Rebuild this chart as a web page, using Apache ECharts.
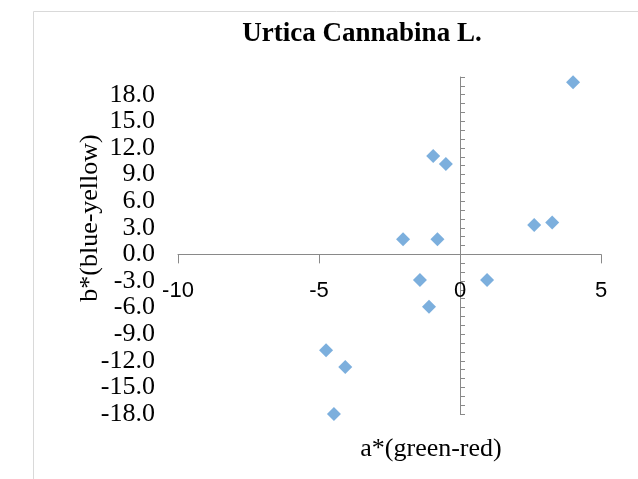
<!DOCTYPE html>
<html>
<head>
<meta charset="utf-8">
<script src="https://cdn.jsdelivr.net/npm/echarts@6/dist/echarts.min.js"></script>
<style>
  html, body { margin: 0; padding: 0; background: #fff; }
  #chart { width: 638px; height: 479px; }
</style>
</head>
<body>
<div id="chart"></div>
<script>
// a* (green-red) and b* (blue-yellow) readings
const aValues = [4.01, -0.95, -0.50, -2.02, -0.80, 2.63, 3.27, -1.42, 0.96, -1.10, -4.75, -4.07, -4.47]
const bValues = [19.4, 11.1, 10.2, 1.7, 1.7, 3.3, 3.6, -2.9, -2.9, -5.9, -10.8, -12.7, -18.0]
const xTicks = [-10, -5, 0, 5]
const yRange = [-18, 20]

const points = aValues.map((a, i) => [a, bValues[i]])

const axisGray = '#898989'
const serif = 'Liberation Serif'
const chart = echarts.init(document.getElementById('chart'))

chart.setOption({
  animation: false,
  title: {
    text: 'Urtica Cannabina L.',
    left: 357,
    textAlign: 'center',
    top: 16,
    textStyle: {
      fontFamily: serif,
      fontWeight: 'bold',
      fontSize: 27,
      color: '#000'
    }
  },
  grid: [
    { left: 178, right: 37, top: 77, bottom: 65 },
    // thin grid ending at the zero line, only used to place the x labels
    { left: 178, right: 37, top: 200, height: 54 }
  ],
  xAxis: [
    {
      type: 'value',
      min: xTicks[0],
      max: xTicks[xTicks.length - 1],
      interval: 5,
      splitLine: { show: false },
      axisLine: { show: true, onZero: true, lineStyle: { color: axisGray, width: 1 } },
      axisTick: { show: true, length: 9, lineStyle: { color: axisGray } },
      axisLabel: { show: false }
    },
    {
      type: 'value',
      gridIndex: 1,
      min: xTicks[0],
      max: xTicks[xTicks.length - 1],
      interval: 5,
      splitLine: { show: false },
      axisLine: { show: false, onZero: false },
      axisTick: { show: false },
      axisLabel: {
        margin: 26,
        fontFamily: 'Liberation Sans',
        fontSize: 22,
        color: '#000'
      }
    }
  ],
  yAxis: [
    {
      // labels on the left edge
      type: 'value',
      min: yRange[0],
      max: yRange[1],
      interval: 3,
      splitLine: { show: false },
      axisLine: { show: false, onZero: false },
      axisTick: { show: false },
      axisLabel: {
        margin: 23,
        padding: [4, 0, 0, 0],
        showMaxLabel: false,
        fontFamily: serif,
        fontSize: 26,
        color: '#000',
        formatter: v => v.toFixed(1)
      }
    },
    {
      // axis line through zero with small ticks
      type: 'value',
      position: 'left',
      min: yRange[0],
      max: yRange[1],
      interval: 1,
      splitLine: { show: false },
      axisLine: { show: true, onZero: true, lineStyle: { color: axisGray, width: 1 } },
      axisTick: { show: true, inside: true, length: 5, lineStyle: { color: axisGray } },
      axisLabel: { show: false }
    },
    {
      type: 'value',
      gridIndex: 1,
      show: false
    }
  ],
  graphic: [
    {
      type: 'rect',
      silent: true,
      shape: { x: 33.5, y: 11.5, width: 700, height: 600 },
      style: { fill: 'none', stroke: '#d9d9d9', lineWidth: 1 }
    },
    {
      type: 'text',
      x: 431,
      y: 449,
      style: {
        text: 'a*(green-red)',
        font: '26px "Liberation Serif"',
        fill: '#000',
        align: 'center',
        verticalAlign: 'middle'
      }
    },
    {
      type: 'text',
      x: 90,
      y: 218,
      rotation: Math.PI / 2,
      style: {
        text: 'b*(blue-yellow)',
        font: '26px "Liberation Serif"',
        fill: '#000',
        align: 'center',
        verticalAlign: 'middle'
      }
    }
  ],
  series: [
    {
      type: 'scatter',
      xAxisIndex: 0,
      yAxisIndex: 1,
      symbol: 'diamond',
      symbolSize: 14,
      itemStyle: { color: '#5B9BD5' },
      data: points
    }
  ]
})
</script>
</body>
</html>
